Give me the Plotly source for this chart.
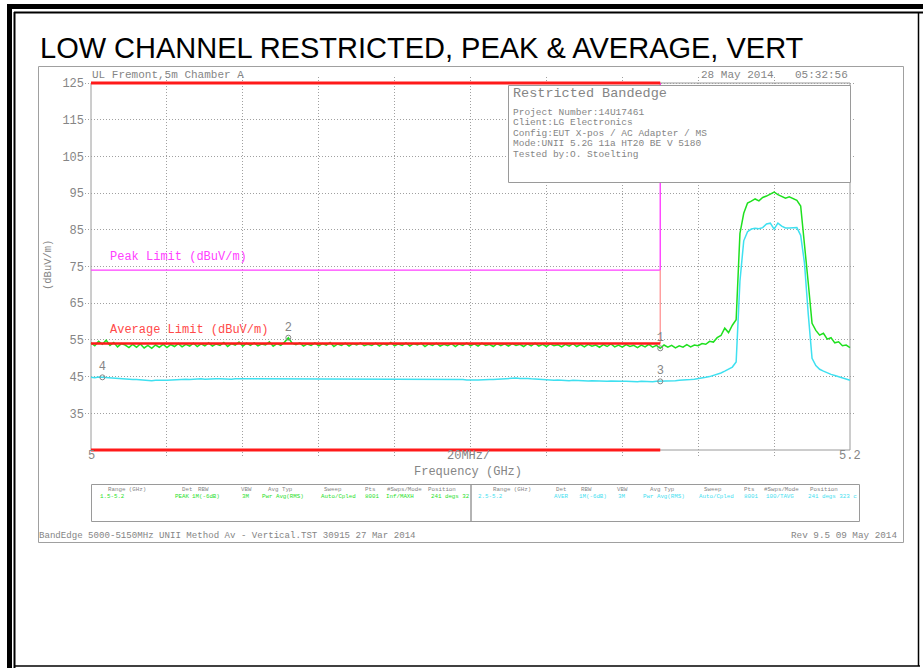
import numpy as np
import plotly.graph_objects as go

W, H = 923, 672

# ---------------- data ----------------
FREQ_START_GHZ = 5.0
FREQ_STOP_GHZ = 5.2

# Peak detector trace (green), dBuV/m, 201 sweep points 5.000 .. 5.200 GHz
peak_trace_dbuv = [
    54.2, 53.4, 54.6, 53.8, 54.9, 53.5, 54.3, 53.1, 54.0, 53.6,
    52.9, 53.8, 53.0, 53.9, 52.8, 53.5, 52.7, 53.6, 53.0, 53.8,
    52.9, 53.7, 53.2, 54.0, 53.1, 53.8, 53.3, 54.1, 53.2, 53.9,
    53.4, 54.2, 53.3, 53.9, 53.5, 54.3, 53.2, 54.0, 53.6, 54.4,
    53.3, 54.1, 53.5, 54.2, 53.4, 53.9, 53.6, 54.5, 53.3, 54.0,
    53.5, 54.4, 55.6, 54.1, 53.7, 54.2, 53.3, 53.9, 53.5, 54.2,
    53.4, 54.0, 53.6, 54.3, 53.2, 53.9, 53.5, 54.1, 53.3, 54.0,
    53.6, 54.2, 53.4, 53.8, 53.5, 54.1, 53.3, 54.0, 53.6, 54.3,
    53.4, 53.9, 53.5, 54.2, 53.3, 54.0, 53.6, 54.1, 53.2, 53.9,
    53.5, 54.1, 53.3, 53.8, 53.4, 54.0, 53.2, 53.9, 53.5, 54.2,
    53.4, 53.9, 53.3, 54.1, 53.5, 53.8, 53.2, 54.0, 53.4, 53.9,
    53.3, 54.0, 53.5, 53.8, 53.2, 53.9, 53.4, 54.1, 53.3, 53.8,
    53.2, 53.9, 53.4, 53.7, 53.1, 53.8, 53.3, 54.0, 53.2, 53.7,
    53.1, 53.8, 53.3, 53.6, 53.0, 53.7, 53.2, 53.9, 53.1, 53.6,
    53.0, 53.7, 53.2, 53.5, 52.9, 53.6, 53.1, 53.8, 53.0, 53.5,
    52.7, 53.6, 53.0, 53.5, 52.8, 53.4, 53.0, 53.7, 53.1, 53.6,
    53.4, 54.0, 53.8, 54.6, 54.4, 55.6, 56.2, 58.2, 57.0, 59.0,
    60.5, 84.0, 89.5, 92.3, 92.8, 93.4, 92.9, 93.8, 94.2, 94.8,
    95.3, 94.6, 94.1, 93.6, 94.0, 93.4, 93.0, 91.5, 80.0, 70.5,
    59.5, 57.6, 56.3, 56.8, 55.2, 55.6, 54.2, 54.5, 53.4, 53.6,
    52.9,
]

# Average detector trace (cyan), dBuV/m, same sweep points
avg_trace_dbuv = [
    44.8, 44.7, 44.9, 44.8, 44.8, 44.7, 44.6, 44.5, 44.5, 44.4,
    44.3, 44.2, 44.2, 44.1, 44.0, 44.0, 43.9, 44.0, 43.9, 44.0,
    44.0, 44.1, 44.1, 44.2, 44.2, 44.3, 44.2, 44.3, 44.3, 44.4,
    44.3, 44.4, 44.3, 44.4, 44.4, 44.3, 44.4, 44.3, 44.4, 44.4,
    44.3, 44.4, 44.3, 44.3, 44.4, 44.3, 44.2, 44.3, 44.3, 44.2,
    44.3, 44.2, 44.3, 44.3, 44.2, 44.3, 44.2, 44.3, 44.2, 44.2,
    44.3, 44.2, 44.3, 44.4, 44.3, 44.4, 44.3, 44.4, 44.4, 44.3,
    44.4, 44.3, 44.4, 44.3, 44.3, 44.4, 44.3, 44.3, 44.2, 44.3,
    44.2, 44.2, 44.3, 44.2, 44.3, 44.3, 44.4, 44.3, 44.4, 44.4,
    44.3, 44.4, 44.4, 44.3, 44.3, 44.2, 44.3, 44.2, 44.2, 44.1,
    44.2, 44.1, 44.1, 44.2, 44.1, 44.2, 44.2, 44.3, 44.4, 44.5,
    44.5, 44.6, 44.6, 44.5, 44.6, 44.5, 44.4, 44.3, 44.2, 44.2,
    44.1, 44.1, 44.0, 44.1, 44.0, 44.0, 43.9, 44.0, 43.9, 43.9,
    43.9, 43.8, 43.9, 43.8, 43.8, 43.8, 43.7, 43.8, 43.7, 43.7,
    43.7, 43.7, 43.6, 43.7, 43.6, 43.7, 43.6, 43.7, 43.6, 43.7,
    43.7, 43.8, 43.8, 43.9, 43.9, 44.0, 44.0, 44.1, 44.2, 44.3,
    44.4, 44.6, 44.8, 45.0, 45.3, 45.6, 46.0, 46.5, 47.0, 47.6,
    49.0, 71.0, 82.0, 84.5, 85.2, 85.4, 85.3, 85.6, 86.6, 86.8,
    85.2, 86.8, 86.0, 85.5, 85.5, 85.6, 85.6, 83.5, 76.0, 62.0,
    50.0, 48.0, 47.0, 46.5, 46.0, 45.6, 45.3, 45.0, 44.7, 44.4,
    44.0,
]

PEAK_LIMIT_DBUV = 74
AVG_LIMIT_DBUV = 54
BAND_EDGE_GHZ = 5.15
Y_MIN, Y_MAX = 25, 125
y_tick_vals = [35, 45, 55, 65, 75, 85, 95, 105, 115, 125]
x_tick_vals = [5.0, 5.2]
x_tick_text = ["5", "5.2"]
x_grid_vals = [5.02, 5.04, 5.06, 5.08, 5.10, 5.12, 5.14, 5.16, 5.18]

marker_ids = ["1", "2", "3", "4"]
marker_freq_ghz = [5.150, 5.052, 5.150, 5.003]
marker_level_dbuv = [52.7, 55.6, 43.7, 44.8]

info_title = "Restricted Bandedge"
info_lines = [
    "Project Number:14U17461",
    "Client:LG Electronics",
    "Config:EUT X-pos / AC Adapter / MS",
    "Mode:UNII 5.2G 11a HT20 BE V 5180",
    "Tested by:O. Stoelting",
]
table_headers = ["Range (GHz)", "Det", "RBW", "VBW", "Avg Typ", "Sweep",
                 "Pts", "#Swps/Mode", "Position"]
peak_settings = ["1.5-5.2", "PEAK", "1M(-6dB)", "3M", "Pwr Avg(RMS)",
                 "Auto/Cpled", "8001", "Inf/MAXH", "241 degs 32"]
avg_settings = ["2.5-5.2", "AVER", "1M(-6dB)", "3M", "Pwr Avg(RMS)",
                "Auto/Cpled", "8001", "100/TAVG", "241 degs 323 c"]

# ---------------- styling ----------------
MONO = "Liberation Mono, DejaVu Sans Mono, monospace"
SANS = "Liberation Sans, Arial, sans-serif"
GRAY = "#858585"
GREEN = "#1fe01f"
CYAN = "#3fe0f0"
MAGENTA = "#ff40ff"
RED = "#ff1a1a"
GRID_DASH = "1px,2px"

freq = np.linspace(FREQ_START_GHZ, FREQ_STOP_GHZ, len(peak_trace_dbuv))


def px(x):
    return x / W


def py(y):
    return 1 - y / H


def ann(text, x, y, size, color=GRAY, xanchor="left", family=MONO, **kw):
    return dict(text=text, x=px(x), y=py(y), xref="paper", yref="paper",
                xanchor=xanchor, yanchor="middle", showarrow=False,
                font=dict(family=family, size=size, color=color), **kw)


def rect(x0, y0, x1, y1, color="black", width=1, fill=None, layer="above"):
    d = dict(type="rect", xref="paper", yref="paper",
             x0=px(x0), x1=px(x1), y0=py(y1), y1=py(y0),
             line=dict(color=color, width=width), layer=layer)
    if fill:
        d["fillcolor"] = fill
    return d


def hline(x0, x1, y, color="black", width=1):
    return dict(type="line", xref="paper", yref="paper", x0=px(x0), x1=px(x1),
                y0=py(y), y1=py(y), line=dict(color=color, width=width))


def vline(x, y0, y1, color="black", width=1):
    return dict(type="line", xref="paper", yref="paper", x0=px(x), x1=px(x),
                y0=py(y0), y1=py(y1), line=dict(color=color, width=width))


# plot area in pixels: 5.0 GHz -> 91 px, 5.2 GHz -> 850 px ; 125 -> 83 px, 25 -> 450 px
PX_L, PX_R, PX_T, PX_B = 91, 850, 83, 450
x_per_px = (FREQ_STOP_GHZ - FREQ_START_GHZ) / (PX_R - PX_L)
y_per_px = (Y_MAX - Y_MIN) / (PX_B - PX_T)
PAD = 6  # px of padding so that edge lines are not clipped
x_range = [FREQ_START_GHZ - PAD * x_per_px, FREQ_STOP_GHZ + PAD * x_per_px]
y_range = [Y_MIN - PAD * y_per_px, Y_MAX + PAD * y_per_px]

fig = go.Figure()

# traces
fig.add_trace(go.Scatter(x=freq, y=peak_trace_dbuv, mode="lines",
                         line=dict(color=GREEN, width=1.5), hoverinfo="skip"))
fig.add_trace(go.Scatter(x=freq, y=avg_trace_dbuv, mode="lines",
                         line=dict(color=CYAN, width=1.5), hoverinfo="skip"))

# peak limit with vertical band-edge line
fig.add_trace(go.Scatter(x=[FREQ_START_GHZ, BAND_EDGE_GHZ, BAND_EDGE_GHZ],
                         y=[PEAK_LIMIT_DBUV, PEAK_LIMIT_DBUV, Y_MAX],
                         mode="lines", line=dict(color=MAGENTA, width=1.4),
                         hoverinfo="skip"))
# average limit
fig.add_trace(go.Scatter(x=[BAND_EDGE_GHZ, BAND_EDGE_GHZ],
                         y=[AVG_LIMIT_DBUV, PEAK_LIMIT_DBUV],
                         mode="lines", line=dict(color="#ff9a9a", width=1.4),
                         hoverinfo="skip"))
fig.add_trace(go.Scatter(x=[FREQ_START_GHZ, BAND_EDGE_GHZ],
                         y=[AVG_LIMIT_DBUV, AVG_LIMIT_DBUV],
                         mode="lines", line=dict(color=RED, width=2.4),
                         hoverinfo="skip"))
# restricted band bars at top and bottom of the screen
for lvl in (Y_MAX, Y_MIN):
    fig.add_trace(go.Scatter(x=[FREQ_START_GHZ, BAND_EDGE_GHZ], y=[lvl, lvl],
                             mode="lines", line=dict(color=RED, width=3.2),
                             hoverinfo="skip"))

# markers
fig.add_trace(go.Scatter(x=marker_freq_ghz, y=marker_level_dbuv,
                         mode="markers+text", text=marker_ids,
                         textposition="top center",
                         textfont=dict(family=MONO, size=12, color=GRAY),
                         marker=dict(symbol="circle-open", size=5,
                                     color=GRAY, line=dict(width=1, color=GRAY)),
                         cliponaxis=False, hoverinfo="skip"))

shapes = []
annotations = []

# page borders
shapes.append(rect(7, 4, 923, 9, color="black", width=0, fill="black"))
shapes.append(rect(7, 4, 12, 668, color="black", width=0, fill="black"))
shapes.append(hline(14, 923, 12.5, width=2))
shapes.append(vline(14.5, 12, 668, width=2))
shapes.append(hline(14, 920, 666, width=1.5))
shapes.append(vline(918.5, 12, 666, width=1.5))

# analyzer frame
shapes.append(rect(38.5, 66.5, 903.5, 542.5, color="#a0a0a0", width=1, layer="below"))

# plot frame (data coords)
shapes.append(dict(type="rect", xref="x", yref="y", x0=FREQ_START_GHZ,
                   x1=FREQ_STOP_GHZ, y0=Y_MIN, y1=Y_MAX,
                   line=dict(color="#9a9a9a", width=1), layer="below"))

# info box
shapes.append(rect(508.5, 85.5, 850.5, 182.5, color="#9a9a9a", width=1,
                   fill="white", layer="above"))

# settings tables
shapes.append(rect(91.5, 484.5, 471, 521.5, color="#9a9a9a", width=1, layer="below"))
shapes.append(rect(471, 484.5, 859.5, 521.5, color="#9a9a9a", width=1, layer="below"))

# title
annotations.append(ann("LOW CHANNEL RESTRICTED, PEAK &amp; AVERAGE, VERT", 38, 48,
                       29, color="black", family=SANS))

# header texts
annotations.append(ann("UL Fremont,5m Chamber A", 90, 75, 11))
annotations.append(ann("28 May 2014", 699, 75, 11))
annotations.append(ann("05:32:56", 850, 75, 11, xanchor="right"))

# info box text
annotations.append(ann(info_title, 511, 94, 13.5))
for i, line in enumerate(info_lines):
    annotations.append(ann(line, 511, 112.5 + i * 10.4, 9.5))

# limit labels
annotations.append(ann("Peak Limit (dBuV/m)", 108, 257, 12, color=MAGENTA))
annotations.append(ann("Average Limit (dBuV/m)", 108, 330, 12, color="#ff4a4a"))

# axis titles / x tick labels
annotations.append(ann("(dBuV/m)", 48, 265, 10.5, xanchor="center", textangle=-90))
annotations.append(ann("20MHz/", 468, 456, 12, xanchor="center"))
annotations.append(ann("Frequency (GHz)", 468, 472, 12, xanchor="center"))
for v, t in zip(x_tick_vals, x_tick_text):
    annotations.append(dict(text=t, x=v, xref="x", y=py(456), yref="paper",
                            xanchor="center", yanchor="middle", showarrow=False,
                            font=dict(family=MONO, size=12, color=GRAY)))

# tables
TFS = 5.8
hdr_x1 = [106, 180, 196, 239, 266, 322, 363, 385, 426]
val_x1 = [98, 173, 190, 240, 260, 319, 363, 384, 429]
hdr_x2 = [491, 554, 579, 615, 648, 702, 742, 762, 808]
val_x2 = [476, 552, 577, 616, 641, 697, 742, 764, 806]
for h, xh, v, xv in zip(table_headers, hdr_x1, peak_settings, val_x1):
    annotations.append(ann(h, xh, 489, TFS))
    annotations.append(ann(v, xv, 496, TFS, color=GREEN))
for h, xh, v, xv in zip(table_headers, hdr_x2, avg_settings, val_x2):
    annotations.append(ann(h, xh, 489, TFS))
    annotations.append(ann(v, xv, 496, TFS, color=CYAN))

# footer
annotations.append(ann("BandEdge 5000-5150MHz UNII Method Av - Vertical.TST 30915 27 Mar 2014",
                       37, 535, 9.1))
annotations.append(ann("Rev 9.5 09 May 2014", 899, 535, 9.3, xanchor="right"))

fig.update_layout(
    width=W, height=H,
    margin=dict(l=0, r=0, t=0, b=0),
    paper_bgcolor="white", plot_bgcolor="white",
    showlegend=False,
    xaxis=dict(domain=[px(PX_L - PAD), px(PX_R + PAD)], range=x_range,
               showgrid=False, zeroline=False, showline=False,
               showticklabels=False, ticks="",
               minor=dict(tickvals=x_grid_vals, showgrid=True,
                          gridcolor="#a0a0a0", griddash=GRID_DASH, gridwidth=1)),
    yaxis=dict(domain=[py(PX_B + PAD), py(PX_T - PAD)], range=y_range,
               tickvals=y_tick_vals, ticktext=[str(v) for v in y_tick_vals],
               showgrid=True, gridcolor="#a0a0a0", griddash=GRID_DASH, gridwidth=1,
               zeroline=False, showline=False, ticks="",
               tickfont=dict(family=MONO, size=12, color=GRAY)),
    shapes=shapes,
    annotations=annotations,
)

fig.write_html("out.html",
               config={"displayModeBar": False},
               post_script="document.body.style.margin='0';"
                           "document.body.style.overflow='hidden';")
